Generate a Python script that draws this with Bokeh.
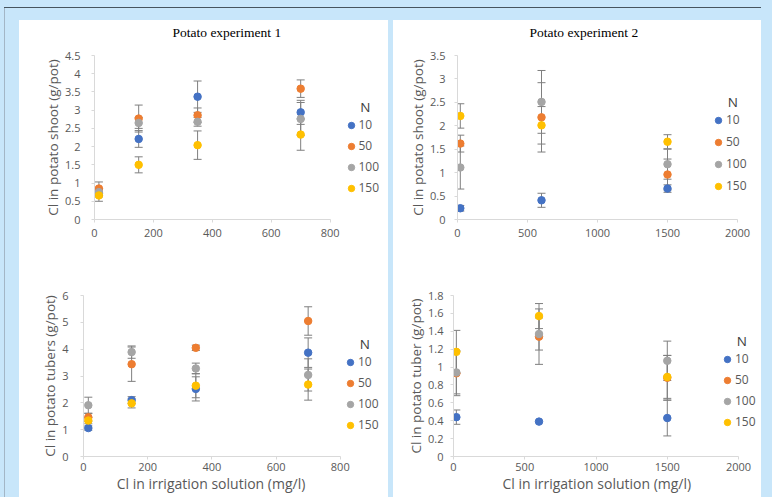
from bokeh.plotting import figure
from bokeh.models import (Range1d, FixedTicker, NumeralTickFormatter, ColumnDataSource,
                          Whisker, TeeHead, Legend, LegendItem)
from bokeh.layouts import column, row
from bokeh.embed import file_html
from bokeh.resources import INLINE

# ---------------- data ----------------
n_levels = ["10", "50", "100", "150"]
series_colors = ["#4472C4", "#ED7D31", "#A5A5A5", "#FFC000"]

exp1_cl = [15, 150, 350, 700]
exp2_cl = [20, 600, 1500]

# Potato experiment 1 - shoot (rows: N 10, 50, 100, 150)
shoot1_mean = [
    [0.72, 2.21, 3.37, 2.94],
    [0.85, 2.77, 2.86, 3.59],
    [0.75, 2.65, 2.68, 2.76],
    [0.66, 1.50, 2.04, 2.33],
]
shoot1_err = [
    [0.10, 0.23, 0.43, 0.33],
    [0.18, 0.37, 0.20, 0.24],
    [0.10, 0.15, 0.12, 0.45],
    [0.16, 0.22, 0.39, 0.43],
]

# Potato experiment 2 - shoot
shoot2_mean = [
    [0.24, 0.41, 0.66],
    [1.62, 2.18, 0.96],
    [1.11, 2.51, 1.18],
    [2.21, 2.01, 1.66],
]
shoot2_err = [
    [0.06, 0.15, 0.08],
    [0.18, 0.74, 0.33],
    [0.46, 0.67, 0.32],
    [0.26, 0.40, 0.15],
]

# Potato experiment 1 - tubers
tuber1_mean = [
    [1.06, 2.10, 2.52, 3.87],
    [1.46, 3.44, 4.05, 5.05],
    [1.91, 3.89, 3.28, 3.04],
    [1.34, 1.98, 2.64, 2.68],
]
tuber1_err = [
    [0.08, 0.13, 0.45, 0.55],
    [0.15, 0.64, 0.10, 0.53],
    [0.30, 0.23, 0.20, 0.60],
    [0.12, 0.17, 0.45, 0.58],
]

# Potato experiment 2 - tuber
tuber2_mean = [
    [0.44, 0.39, 0.43],
    [0.93, 1.34, 0.88],
    [0.94, 1.37, 1.07],
    [1.17, 1.57, 0.89],
]
tuber2_err = [
    [0.08, 0.01, 0.20],
    [0.25, 0.31, 0.25],
    [0.24, 0.18, 0.22],
    [0.24, 0.14, 0.24],
]

exp1_xticks = [0, 200, 400, 600, 800]
exp2_xticks = [0, 500, 1000, 1500, 2000]
shoot1_yticks = [0, 0.5, 1, 1.5, 2, 2.5, 3, 3.5, 4, 4.5]
shoot2_yticks = [0, 0.5, 1, 1.5, 2, 2.5, 3, 3.5]
tuber1_yticks = [0, 1, 2, 3, 4, 5, 6]
tuber2_yticks = [0, 0.2, 0.4, 0.6, 0.8, 1, 1.2, 1.4, 1.6, 1.8]

titles = ["Potato experiment 1", "Potato experiment 2"]
ylabels = ["Cl in potato shoot (g/pot)", "Cl in potato shoot (g/pot)",
           "Cl in potato tubers (g/pot)", "Cl in potato tuber (g/pot)"]
xlabel = "Cl in irrigation solution (mg/l)"
legend_title = "N"

# ---------------- styling ----------------
BG = "#c8e6fa"
TXT = "#595959"
AXIS = "#d9d9d9"
ERR = "#7f7f7f"
SANS = "Open Sans"


def make_panel(xs, means, errs, xticks, yticks, ylabel, cfg, title=None, xlab=None):
    p = figure(width=cfg["w"], height=cfg["h"], output_backend="svg", toolbar_location=None,
               x_range=Range1d(xticks[0], cfg["xend"]), y_range=Range1d(yticks[0], yticks[-1]),
               min_border_left=cfg["ml"], min_border_right=cfg["mr"],
               min_border_top=cfg["mt"], min_border_bottom=cfg["mb"],
               title=title)
    p.background_fill_color = "white"
    # transparent border: the white panel (with a blue strip on top) comes from CSS
    p.border_fill_alpha = 0
    p.styles = {"background": "linear-gradient(to bottom, %s %dpx, white %dpx)"
                % (BG, cfg["strip"], cfg["strip"])}
    p.outline_line_color = None
    p.grid.visible = False
    if title is not None:
        p.title.text_font = "Liberation Serif"
        p.title.text_font_size = "13.5px"
        p.title.text_font_style = "normal"
        p.title.text_color = "black"
        p.title.align = "left"
        p.title.vertical_align = "top"
        p.title.offset = cfg["toff"]
        p.title.standoff = 28

    xa = p.xaxis[0]
    xa.ticker = FixedTicker(ticks=xticks)
    xa.formatter = NumeralTickFormatter(format="0")
    xa.bounds = (xticks[0], xticks[-1])
    xa.axis_line_color = AXIS
    xa.major_tick_line_color = AXIS
    xa.major_tick_out = 3
    xa.major_tick_in = 0
    xa.minor_tick_line_color = None
    xa.major_label_standoff = cfg["xstand"]
    xa.major_label_text_font = SANS
    xa.major_label_text_font_size = "11px"
    xa.major_label_text_color = TXT
    if xlab is not None:
        # trailing figure spaces keep the title centred under the drawn axis
        xa.axis_label = xlab + cfg["xpad"]
        xa.axis_label_text_font = SANS
        xa.axis_label_text_font_size = "14px"
        xa.axis_label_text_font_style = "normal"
        xa.axis_label_text_color = TXT
        xa.axis_label_standoff = cfg["xlstand"]

    ya = p.yaxis[0]
    ya.ticker = FixedTicker(ticks=yticks)
    ya.formatter = NumeralTickFormatter(format="0.[0]")
    ya.axis_line_color = AXIS
    ya.major_tick_line_color = AXIS
    ya.major_tick_out = 3
    ya.major_tick_in = 0
    ya.minor_tick_line_color = None
    ya.major_label_standoff = cfg["ystand"]
    ya.major_label_text_font = SANS
    ya.major_label_text_font_size = "11px"
    ya.major_label_text_color = TXT
    ya.axis_label = ylabel
    ya.axis_label_text_font = SANS
    ya.axis_label_text_font_size = "13.5px"
    ya.axis_label_text_font_style = "normal"
    ya.axis_label_text_color = TXT
    ya.axis_label_standoff = 0

    items = []
    srcs = []
    for m, e in zip(means, errs):
        srcs.append(ColumnDataSource(dict(
            x=xs, y=m,
            upper=[a + b for a, b in zip(m, e)],
            lower=[a - b for a, b in zip(m, e)])))
    for s in srcs:
        w = Whisker(source=s, base="x", upper="upper", lower="lower",
                    line_color=ERR, line_width=1,
                    upper_head=TeeHead(size=8, line_color=ERR, line_width=1),
                    lower_head=TeeHead(size=8, line_color=ERR, line_width=1))
        p.add_layout(w)
    for s, lab, col in zip(srcs, n_levels, series_colors):
        r = p.scatter("x", "y", source=s, size=7.5, fill_color=col, line_color=col)
        items.append(LegendItem(label=lab, renderers=[r]))

    lg = Legend(items=items, location=(cfg["lx"], cfg["ly"]),
                title="\u2007\u2007\u2009" + legend_title)
    lg.title_text_font = SANS
    lg.title_text_font_size = "13.5px"
    lg.title_text_font_style = "normal"
    lg.title_text_color = "#404040"
    lg.title_standoff = 0
    lg.label_text_font = SANS
    lg.label_text_font_size = "12px"
    lg.label_text_color = TXT
    lg.glyph_width = 16
    lg.glyph_height = 16
    lg.label_height = 16
    lg.label_standoff = 0
    lg.spacing = cfg["lsp"]
    lg.padding = 0
    lg.margin = 0
    lg.border_line_color = None
    lg.background_fill_alpha = 0
    p.add_layout(lg)
    return p


cfg1 = dict(w=369, h=250, ml=75, mr=3, mt=42, mb=41, xend=988, toff=78, strip=10,
            ystand=11, xstand=6, xlstand=0, xpad="", lx=248.5, ly=23, lsp=4)
cfg2 = dict(w=368, h=250, ml=64, mr=3, mt=42, mb=40, xend=2150, toff=72, strip=10,
            ystand=9, xstand=6, xlstand=0, xpad="", lx=253, ly=25, lsp=5)
cfg3 = dict(w=369, h=245, ml=64, mr=3, mt=32, mb=49, xend=941, toff=0, strip=0,
            ystand=12, xstand=3, xlstand=0, xpad="\u2007" * 5 + "\u2002",
            lx=259, ly=23, lsp=4)
cfg4 = dict(w=368, h=245, ml=60, mr=3, mt=35, mb=49, xend=2140, toff=0, strip=0,
            ystand=7, xstand=3, xlstand=0, xpad="\u2007\u2007\u2009",
            lx=266, ly=26, lsp=4)

p1 = make_panel(exp1_cl, shoot1_mean, shoot1_err, exp1_xticks, shoot1_yticks,
                ylabels[0], cfg1, title=titles[0])
p2 = make_panel(exp2_cl, shoot2_mean, shoot2_err, exp2_xticks, shoot2_yticks,
                ylabels[1], cfg2, title=titles[1])
p3 = make_panel(exp1_cl, tuber1_mean, tuber1_err, exp1_xticks, tuber1_yticks,
                ylabels[2], cfg3, xlab=xlabel)
p4 = make_panel(exp2_cl, tuber2_mean, tuber2_err, exp2_xticks, tuber2_yticks,
                ylabels[3], cfg4, xlab=xlabel)

p1.margin = (10, 0, 0, 19)
p2.margin = (10, 0, 0, 5)
p3.margin = (0, 0, 0, 19)
p4.margin = (0, 0, 0, 5)

frame_css = {
    "background-color": BG,
    "background-image": "linear-gradient(#46545e,#46545e),linear-gradient(#a3b6c6,#a3b6c6)",
    "background-size": "100% 1px,1px 100%",
    "background-position": "4px 7px,4px 7px",
    "background-repeat": "no-repeat",
}

layout = column(row(p1, p2, spacing=0), row(p3, p4, spacing=0), spacing=0,
                styles=frame_css)

page_css = ("<style>html,body{overflow:hidden;background-color:%s;}</style>" % BG)

html = file_html(layout, INLINE)
html = html.replace("</head>", page_css + "</head>", 1)
open("out.html", "w").write(html)
